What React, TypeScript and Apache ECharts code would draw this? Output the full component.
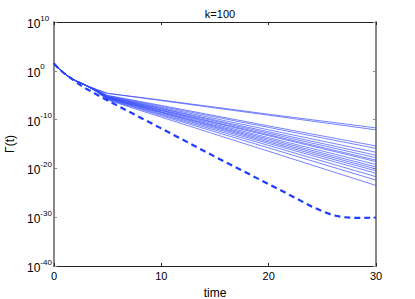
import React, { useEffect, useRef } from "react";
import * as echarts from "echarts";

// log10 of Γ(t); all curves share this head
const headT = [0, 0.5, 1, 1.5, 2, 2.5, 3];
const headLog = [1.5, 0.3, -0.6, -1.4, -2.0, -2.5, -3.0];

// thin curves: log10 values at these times
const tailT = [4, 5, 10, 20, 30];
const thinTails: number[][] = [
  [-3.85, -4.6, -6.0, -8.9, -11.7],
  [-3.87, -4.65, -6.1, -9.1, -12.1],
  [-4.0, -5.04, -7.1, -11.3, -15.4],
  [-4.02, -5.1, -7.3, -11.6, -15.9],
  [-4.05, -5.2, -7.5, -12.1, -16.7],
  [-4.08, -5.27, -7.7, -12.5, -17.3],
  [-4.1, -5.32, -7.8, -12.8, -17.8],
  [-4.12, -5.38, -8.0, -13.1, -18.3],
  [-4.13, -5.42, -8.1, -13.3, -18.6],
  [-4.15, -5.49, -8.2, -13.7, -19.2],
  [-4.17, -5.55, -8.4, -14.0, -19.7],
  [-4.19, -5.6, -8.5, -14.3, -20.1],
  [-4.2, -5.64, -8.6, -14.6, -20.5],
  [-4.22, -5.7, -8.8, -14.9, -21.0],
  [-4.25, -5.79, -9.0, -15.3, -21.7],
  [-4.28, -5.87, -9.2, -15.8, -22.4],
  [-4.32, -6.0, -9.5, -16.5, -23.5],
];

// thick dashed curve
const dashT = [0, 0.5, 1, 1.5, 2, 2.7, 5, 9.9, 15, 21.4, 24, 25, 26, 27, 28, 30];
const dashLog = [1.5, 0.3, -0.6, -1.4, -2.2, -3.3, -6.1, -11.7, -17.6, -24.8, -27.8, -28.8, -29.6, -30.0, -30.15, -30.1];

const yTicks = [-40, -30, -20, -10, 0, 10];

const FONT = "Liberation Sans, Arial, Helvetica, sans-serif";

export default function App() {
  const ref = useRef<HTMLDivElement>(null);
  useEffect(() => {
    if (!ref.current) return;
    const chart = echarts.init(ref.current, null, { renderer: "svg" });
    const headPts = headT.map((t, i) => [t, headLog[i]]);
    const series: any[] = thinTails.map((tail, k) => ({
      type: "line",
      name: "thin" + k,
      data: headPts.concat(tailT.map((t, i) => [t, tail[i]])),
      showSymbol: false,
      symbol: "none",
      lineStyle: { color: "#3347ff", width: 0.8, opacity: 0.85 },
      z: 2,
    }));
    series.push({
      type: "line",
      name: "dash",
      data: dashT.map((t, i) => [t, dashLog[i]]),
      symbol: "none",
      lineStyle: { color: "#1f3cff", width: 2.2, type: [6, 4] },
      z: 3,
    });
    chart.setOption({
      animation: false,
      title: {
        text: "k=100",
        left: 215,
        top: 3,
        textAlign: "center",
        textStyle: { fontFamily: FONT, fontSize: 11, fontWeight: "normal", color: "#000" },
      },
      grid: { left: 54, right: 39, top: 22, bottom: 33, outerBoundsMode: "none", containLabel: false },
      xAxis: [
        {
          type: "value",
          min: 0,
          max: 30,
          interval: 10,
          name: "time",
          nameLocation: "middle",
          nameGap: 21,
          nameTextStyle: { fontFamily: FONT, fontSize: 12, color: "#000" },
          axisLine: { onZero: false, lineStyle: { color: "#222", width: 1 } },
          axisTick: { inside: true, length: 3, lineStyle: { color: "#222" } },
          axisLabel: { fontFamily: FONT, fontSize: 11, color: "#000", margin: 4 },
          splitLine: { show: false },
        },
        {
          type: "value",
          min: 0,
          max: 30,
          interval: 10,
          position: "top",
          axisLine: { show: true, onZero: false, lineStyle: { color: "#222", width: 1 } },
          axisTick: { inside: true, length: 3, lineStyle: { color: "#222" } },
          axisLabel: { show: false },
          splitLine: { show: false },
        },
      ],
      yAxis: [
        {
          type: "value",
          min: -40,
          max: 10,
          interval: 10,
          name: "Γ(t)",
          nameLocation: "middle",
          nameGap: 31,
          nameTextStyle: { fontFamily: FONT, fontSize: 12, color: "#000" },
          axisLine: { onZero: false, lineStyle: { color: "#888", width: 2 } },
          axisTick: { inside: true, length: 3, lineStyle: { color: "#888" } },
          axisLabel: {
            margin: 27,
            align: "left",
            formatter: (v: number) => (yTicks.includes(v) ? `{b|10}{s|${v}}` : ""),
            rich: {
              b: { fontFamily: FONT, fontSize: 12, color: "#000", verticalAlign: "bottom", lineHeight: 16 },
              s: { fontFamily: FONT, fontSize: 8, color: "#000", verticalAlign: "top", lineHeight: 16 },
            },
          },
          splitLine: { show: false },
        },
        {
          type: "value",
          min: -40,
          max: 10,
          interval: 10,
          position: "right",
          axisLine: { show: true, onZero: false, lineStyle: { color: "#888", width: 2 } },
          axisTick: { inside: true, length: 3, lineStyle: { color: "#888" } },
          axisLabel: { show: false },
          splitLine: { show: false },
        },
      ],
      series,
    });
    return () => chart.dispose();
  }, []);
  return <div ref={ref} style={{ width: 415, height: 299, position: "absolute", left: 0, top: 0 }} />;
}
